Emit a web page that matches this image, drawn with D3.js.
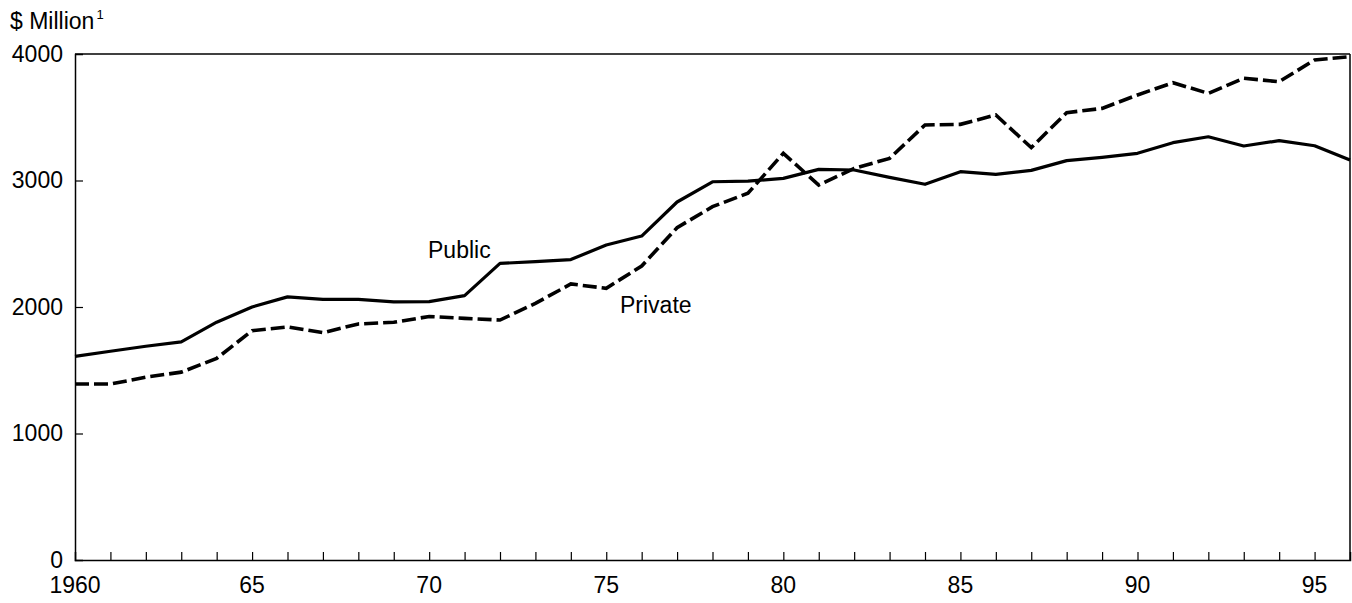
<!DOCTYPE html>
<html><head><meta charset="utf-8">
<script src="https://cdn.jsdelivr.net/npm/d3@7"></script>
<style>body{margin:0;background:#fff}text{font-family:"Liberation Sans",Arial,sans-serif;fill:#000}</style>
</head><body><svg id="c" width="1352" height="603"></svg>
<script>
const years = d3.range(1960, 1997);
const publicVals = [1610,1650,1690,1725,1880,2000,2080,2060,2060,2040,2043,2090,2345,2358,2375,2490,2561,2830,2990,2995,3017,3088,3083,3025,2970,3070,3049,3080,3157,3183,3215,3299,3346,3273,3315,3275,3162];
const privateVals = [1391,1391,1445,1485,1594,1813,1842,1797,1866,1879,1925,1910,1897,2029,2182,2148,2324,2627,2793,2899,3215,2964,3096,3175,3439,3444,3518,3260,3536,3570,3676,3773,3689,3808,3781,3953,3979];
const yTicks = [0,1000,2000,3000,4000];
const xLabelYears = [1960,1965,1970,1975,1980,1985,1990,1995];
const xLabels = ["1960","65","70","75","80","85","90","95"];

const svg = d3.select("#c");
const L=75, R=1350, T=54, B=560;
const x = d3.scaleLinear().domain([1960,1996]).range([L,R]);
const y = d3.scaleLinear().domain([0,4000]).range([B,T]);
const fs = 23;

// frame
svg.append("line").attr("x1",L).attr("x2",R).attr("y1",T).attr("y2",T).attr("stroke","#000").attr("stroke-width",1.5);
svg.append("line").attr("x1",R).attr("x2",R).attr("y1",T).attr("y2",B).attr("stroke","#000").attr("stroke-width",1.5);

// y axis
const ya = svg.append("g").attr("transform",`translate(${L},0)`)
  .call(d3.axisLeft(y).tickValues(yTicks).tickSize(-8).tickPadding(12).tickFormat(d3.format("d")));
ya.select(".domain").attr("stroke-width",1.5);
ya.selectAll(".tick line").attr("stroke-width",1.2);
ya.selectAll(".tick").filter(d=>d===0||d===4000).select("line").remove();
ya.selectAll("text").attr("font-size",fs).attr("font-family",null);

// x axis
const xa = svg.append("g").attr("transform",`translate(0,${B})`)
  .call(d3.axisBottom(x).tickValues(years.slice(1,-1)).tickSize(-8).tickFormat(""));
xa.select(".domain").attr("stroke-width",1.5);
xa.selectAll(".tick line").attr("stroke-width",1.2);
svg.append("g").selectAll("text").data(xLabelYears).join("text")
  .attr("x",d=>x(d)).attr("y",593).attr("text-anchor","middle").attr("font-size",fs)
  .text((d,i)=>xLabels[i]);

// unit label
const ut = svg.append("text").attr("x",10).attr("y",29).attr("font-size",fs);
ut.append("tspan").text("$ Million");
ut.append("tspan").attr("font-size",13).attr("dy",-10).attr("dx",2).text("1");

// lines
const line = d3.line().x((d,i)=>x(years[i])).y(d=>y(d));
svg.append("path").datum(publicVals).attr("d",line).attr("fill","none").attr("stroke","#000").attr("stroke-width",3.2).attr("stroke-linejoin","round");
svg.append("path").datum(privateVals).attr("d",line).attr("fill","none").attr("stroke","#000").attr("stroke-width",3.6).attr("stroke-dasharray","14,5");

svg.append("text").attr("x",428).attr("y",258).attr("font-size",fs).text("Public");
svg.append("text").attr("x",620).attr("y",313).attr("font-size",fs).text("Private");
</script></body></html>
